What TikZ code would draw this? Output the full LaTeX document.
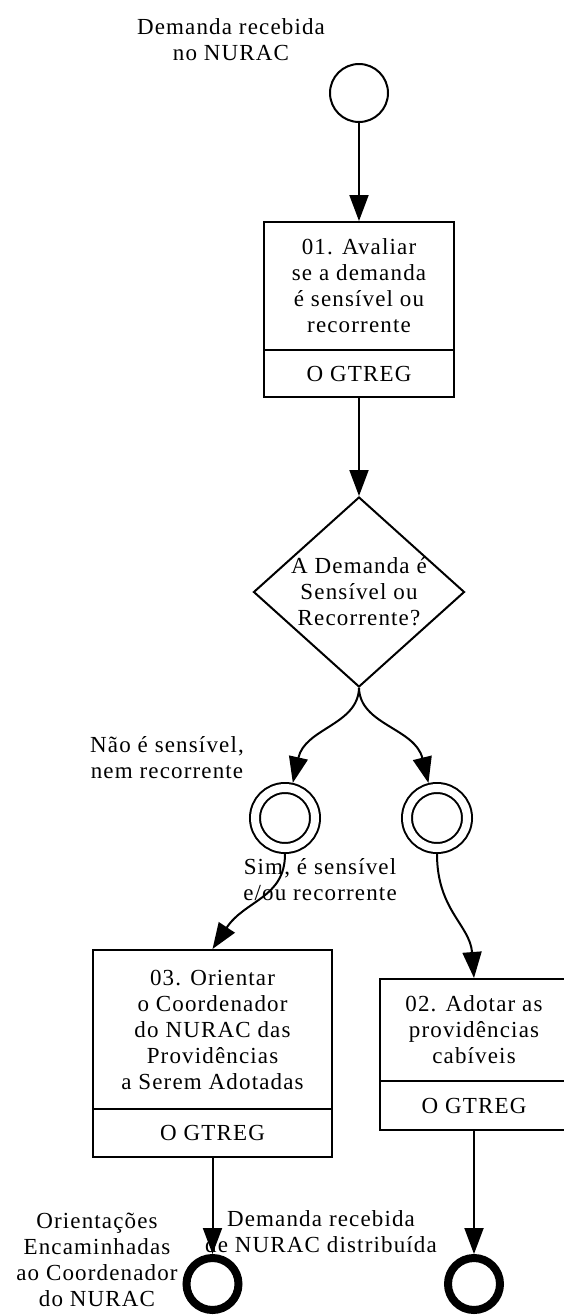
\documentclass[tikz,border=0pt]{standalone}
\usepackage{fontspec}
\setmainfont[LetterSpace=5]{Liberation Serif}
\usetikzlibrary{arrows.meta,shapes.geometric}

\begin{document}
\begin{tikzpicture}[x=1pt, y=-1pt,
    every node/.style={font=\fontsize{23}{26}\selectfont, align=center, inner sep=0pt},
    tarefa/.style={draw, line width=2pt, minimum width=#1},
    seta/.style={line width=2pt, -{Triangle[length=26pt, width=19pt]}},
    inicio/.style={circle, draw, line width=2pt, minimum size=58pt},
    intermed/.style={circle, draw, line width=2pt, double, double distance=8pt, minimum size=60pt, outer sep=6pt},
    fim/.style={circle, draw, line width=8pt, minimum size=52pt, outer sep=4pt}]

  \useasboundingbox (0,0) rectangle (563,1315);

  % 1. Evento de início e primeira tarefa
  \node[inicio] (ini) at (359,93) {};
  \node (iniTxt) at (231,40) {Demanda recebida\\no NURAC};
  \node[tarefa=190pt, minimum height=128pt] (t01) at (359,286)
    {01. Avaliar\\se a demanda\\é sensível ou\\recorrente};
  \node[tarefa=190pt, minimum height=47pt] (t01r) at (359,373.5) {O GTREG};

  % 2. Decisão (texto por cima do losango)
  \node[diamond, draw, line width=2pt, minimum width=211pt, minimum height=190pt] (dec) at (359,592) {};
  \node (decTxt) at (dec) {A Demanda é\\Sensível ou\\Recorrente?};

  % 3. Eventos intermediários
  \node[intermed] (ev1) at (285,818) {};
  \node[intermed] (ev2) at (437,818) {};
  \node (naoTxt) at (167,758) {Não é sensível,\\nem recorrente};
  \node (simTxt) at (320,880) {Sim, é sensível\\e/ou recorrente};

  % 4. Tarefas 03 e 02
  \node[tarefa=239pt, minimum height=159pt] (t03) at (212.5,1029.5)
    {03. Orientar\\o Coordenador\\do NURAC das\\Providências\\a Serem Adotadas};
  \node[tarefa=239pt, minimum height=48pt] (t03r) at (212.5,1133) {O GTREG};
  \node[tarefa=188pt, minimum height=102pt] (t02) at (474,1030)
    {02. Adotar as\\providências\\cabíveis};
  \node[tarefa=188pt, minimum height=49pt] (t02r) at (474,1105.5) {O GTREG};

  % 5. Eventos de fim
  \node[fim] (fim1) at (212.5,1284) {};
  \node[fim] (fim2) at (474,1284) {};
  \node (fim1Txt) at (97,1260) {Orientações\\Encaminhadas\\ao Coordenador\\do NURAC};
  \node (fim2Txt) at (321,1232) {Demanda recebida\\de NURAC distribuída};

  % 6. Fluxos
  \draw[seta] (ini) -- (t01);
  \draw[seta] (t01r) -- (dec);
  \draw[seta] (dec.south) .. controls (358,725) and (305,728) .. (ev1);
  \draw[seta] (dec.south) .. controls (360,725) and (415,728) .. (ev2);
  \draw[seta] (ev1) .. controls (285,898) and (245,900) .. (t03.north);
  \draw[seta] (ev2) .. controls (437,910) and (470,925) .. (t02.north);
  \draw[seta] (t03r) -- (fim1);
  \draw[seta] (t02r) -- (fim2);
\end{tikzpicture}
\end{document}
